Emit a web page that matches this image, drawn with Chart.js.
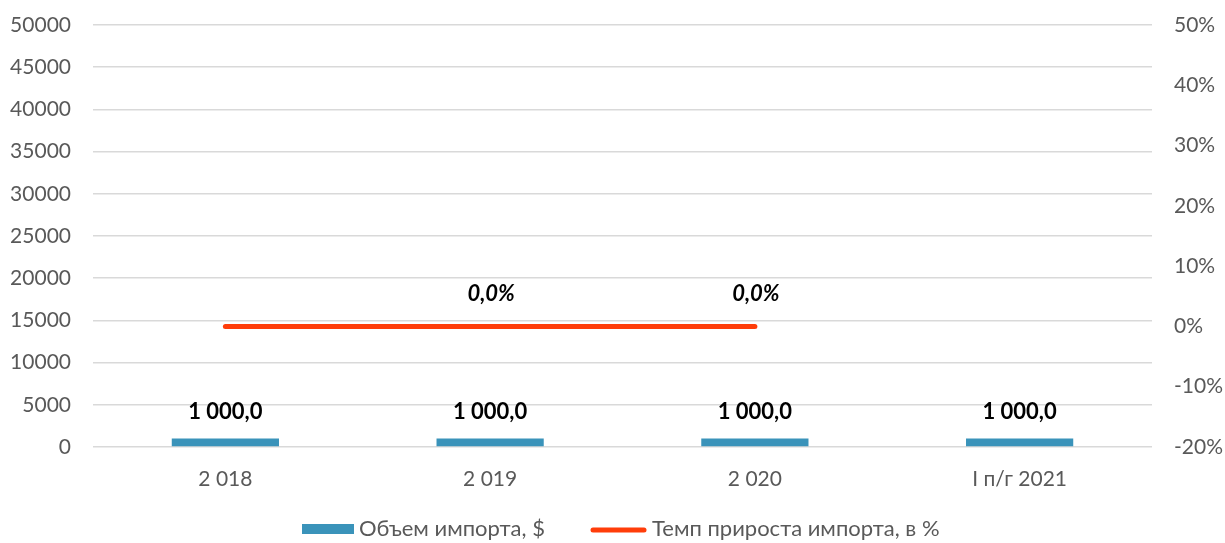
<!DOCTYPE html>
<html>
<head>
<meta charset="utf-8">
<script src="https://cdn.jsdelivr.net/npm/chart.js@4/dist/chart.umd.min.js"></script>
<style>
  html, body { margin: 0; padding: 0; background: #fff; }
  #wrap { width: 1225px; height: 543px; }
</style>
</head>
<body>
<div id="wrap"><canvas id="importChart" width="1225" height="543"></canvas></div>
<script>
// chart data
var categories = ["2 018", "2 019", "2 020", "I п/г 2021"];
var importVolume = [1000, 1000, 1000, 1000];
var growthRate = [0, 0, 0, null];          // share, 0 = 0%
var growthLabelShown = [false, true, true, false];
var volumeLabel = "Объем импорта, $";
var growthLabel = "Темп прироста импорта, в %";

var barColor = "#3a93ba";
var lineColor = "#ff3d0a";
var textColor = "#595959";
var fontFamily = "Lato, 'Open Sans', sans-serif";

function fmtVolume(v) {
    // 1000 -> "1 000,0"
    var parts = v.toFixed(1).split(".");
    var intPart = parts[0].replace(/\B(?=(\d{3})+(?!\d))/g, " ");
    return intPart + "," + parts[1];
}

function fmtPercent(v) {
    return (v * 100).toFixed(1).replace(".", ",") + "%";
}

// no extra room above/below for the tick labels, layout padding decides it
function noLabelPadding(scale) {
    scale.paddingTop = 0;
    scale.paddingBottom = 0;
}

// draws the value labels and the legend at the bottom
var labelsPlugin = {
    id: "labelsPlugin",
    afterDatasetsDraw: function(chart) {
        var ctx = chart.ctx;
        ctx.save();
        ctx.textAlign = "center";
        ctx.textBaseline = "middle";
        ctx.fillStyle = "#000";

        var barMeta = chart.getDatasetMeta(0);
        ctx.font = "bold 22px " + fontFamily;
        barMeta.data.forEach(function(bar, i) {
            ctx.fillText(fmtVolume(importVolume[i]), bar.x, bar.y - 27);
        });

        var lineMeta = chart.getDatasetMeta(1);
        ctx.font = "italic bold 22px " + fontFamily;
        lineMeta.data.forEach(function(pt, i) {
            if (!growthLabelShown[i] || growthRate[i] === null) return;
            ctx.fillText(fmtPercent(growthRate[i]), pt.x + 1, pt.y - 33);
        });

        // legend
        var y = 529;
        ctx.font = "22px " + fontFamily;
        ctx.textAlign = "left";
        ctx.fillStyle = barColor;
        ctx.fillRect(302, y - 5, 52, 10);
        ctx.fillStyle = textColor;
        ctx.fillText(volumeLabel, 359, y);

        ctx.strokeStyle = lineColor;
        ctx.lineWidth = 5;
        ctx.lineCap = "round";
        ctx.beginPath();
        ctx.moveTo(593, y + 1);
        ctx.lineTo(644, y + 1);
        ctx.stroke();
        ctx.fillStyle = textColor;
        ctx.fillText(growthLabel, 652, y);
        ctx.restore();
    }
};

var ctx = document.getElementById("importChart").getContext("2d");
var chart = new Chart(ctx, {
    type: "bar",
    data: {
        labels: categories,
        datasets: [{
            label: volumeLabel,
            data: importVolume,
            backgroundColor: barColor,
            barPercentage: 1,
            categoryPercentage: 0.405,
            yAxisID: "y",
            order: 2
        }, {
            type: "line",
            label: growthLabel,
            data: growthRate,
            borderColor: lineColor,
            backgroundColor: lineColor,
            borderWidth: 5,
            borderCapStyle: "round",
            pointRadius: 0,
            tension: 0,
            yAxisID: "y2",
            order: 1
        }]
    },
    options: {
        responsive: false,
        animation: false,
        devicePixelRatio: 1,
        layout: { padding: { top: 25, bottom: 46, left: 0, right: 0 } },
        plugins: {
            legend: { display: false },
            tooltip: { enabled: false }
        },
        scales: {
            x: {
                grid: { display: false, drawTicks: false },
                border: { display: false },
                ticks: { color: textColor, font: { family: fontFamily, size: 21 }, padding: 20 },
                afterFit: function(scale) { scale.height = 50; }
            },
            y: {
                position: "left",
                min: 0,
                max: 50000,
                ticks: {
                    stepSize: 5000,
                    color: textColor,
                    font: { family: fontFamily, size: 21 },
                    padding: 22,
                    callback: function(v) { return String(v); }
                },
                grid: { color: "#d9d9d9", lineWidth: 1.5, drawTicks: false },
                border: { display: false },
                afterFit: function(scale) { scale.width = 93; noLabelPadding(scale); }
            },
            y2: {
                position: "right",
                min: -0.2,
                max: 0.5,
                ticks: {
                    stepSize: 0.1,
                    color: textColor,
                    font: { family: fontFamily, size: 21 },
                    padding: 22,
                    callback: function(v) { return Math.round(v * 100) + "%"; }
                },
                grid: { display: false, drawTicks: false },
                border: { display: false },
                afterFit: function(scale) { scale.width = 73; noLabelPadding(scale); }
            }
        }
    },
    plugins: [labelsPlugin]
});
</script>
</body>
</html>
